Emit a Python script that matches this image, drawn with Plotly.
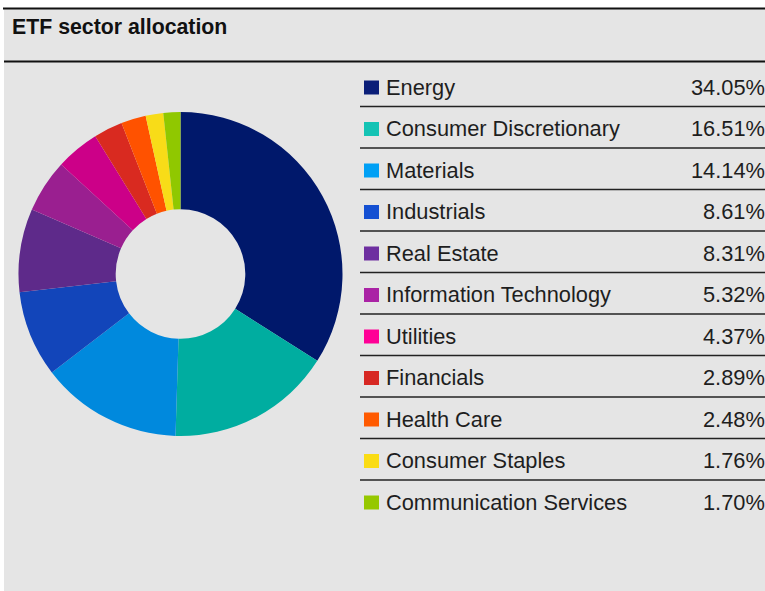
import plotly.graph_objects as go

W, H = 765, 591

sectors = ["Energy", "Consumer Discretionary", "Materials", "Industrials", "Real Estate",
           "Information Technology", "Utilities", "Financials", "Health Care",
           "Consumer Staples", "Communication Services"]
weights = [34.05, 16.51, 14.14, 8.61, 8.31, 5.32, 4.37, 2.89, 2.48, 1.76, 1.70]
title_text = "ETF sector allocation"

pie_colors = ["#00186b", "#00ada0", "#0089dd", "#1245ba", "#5e2a8a", "#9a1f90",
              "#cc0088", "#d92a20", "#ff5200", "#f8dc18", "#90c800"]
legend_colors = ["#0a1e78", "#14c3b4", "#00a0f5", "#1450d2", "#6e2fa0", "#aa23a5",
                 "#ff0096", "#d72823", "#ff5a00", "#fadc14", "#96c800"]

FONT = "Liberation Sans, Arial, sans-serif"
TXT = "#1e1e1e"


def px(x):
    return x / W


def py(y):
    return 1 - y / H


fig = go.Figure()

# donut
cx, cy, r = 180.5, 274, 162
fig.add_trace(go.Pie(
    labels=sectors, values=weights, hole=0.4, sort=False, direction="clockwise",
    rotation=0, textinfo="none", hoverinfo="label+percent",
    marker=dict(colors=pie_colors, line=dict(width=0)),
    domain=dict(x=[px(cx - r), px(cx + r)], y=[py(cy + r), py(cy - r)]),
    showlegend=False,
))

shapes = []
annotations = []

# background panel
shapes.append(dict(type="rect", xref="paper", yref="paper", x0=px(4), x1=1, y0=0, y1=py(9),
                   fillcolor="#e5e5e5", line=dict(width=0), layer="below"))
# header lines
shapes.append(dict(type="line", xref="paper", yref="paper", x0=px(3), x1=1, y0=py(8.5), y1=py(8.5),
                   line=dict(color="#111111", width=2.2)))
shapes.append(dict(type="line", xref="paper", yref="paper", x0=px(4), x1=1, y0=py(61.5), y1=py(61.5),
                   line=dict(color="#111111", width=2.2)))

annotations.append(dict(text="<b>" + title_text + "</b>", xref="paper", yref="paper",
                        x=px(10), y=py(26.5), xanchor="left", yanchor="middle", showarrow=False,
                        font=dict(family=FONT, size=21.3, color="#111111")))

# custom legend
row0, step = 87.5, 41.5
for i, (name, val) in enumerate(zip(sectors, weights)):
    yc = row0 + step * i
    shapes.append(dict(type="rect", xref="paper", yref="paper", x0=px(364), x1=px(379),
                       y0=py(yc + 7), y1=py(yc - 7), fillcolor=legend_colors[i], line=dict(width=0)))
    annotations.append(dict(text=name, xref="paper", yref="paper", x=px(384), y=py(yc - 0.5),
                            xanchor="left", yanchor="middle", showarrow=False,
                            font=dict(family=FONT, size=21.8, color=TXT)))
    annotations.append(dict(text=f"{val:.2f}%", xref="paper", yref="paper", x=px(767), y=py(yc - 0.5),
                            xanchor="right", yanchor="middle", showarrow=False,
                            font=dict(family=FONT, size=21.8, color=TXT)))
    if i < len(sectors) - 1:
        yl = yc + 19
        shapes.append(dict(type="line", xref="paper", yref="paper", x0=px(360), x1=1,
                           y0=py(yl), y1=py(yl), line=dict(color="#222222", width=1.5)))

fig.update_layout(
    width=W, height=H, margin=dict(l=0, r=0, t=0, b=0),
    paper_bgcolor="white", plot_bgcolor="white",
    shapes=shapes, annotations=annotations,
)

fig.write_html("out.html", config={"displayModeBar": False})

# remove default page margin so the figure sits at the window's top-left corner
with open("out.html", "r", encoding="utf-8") as f:
    html = f.read()
html = html.replace("<head>", "<head><style>html,body{margin:0;padding:0;overflow:hidden;}</style>", 1)
with open("out.html", "w", encoding="utf-8") as f:
    f.write(html)
